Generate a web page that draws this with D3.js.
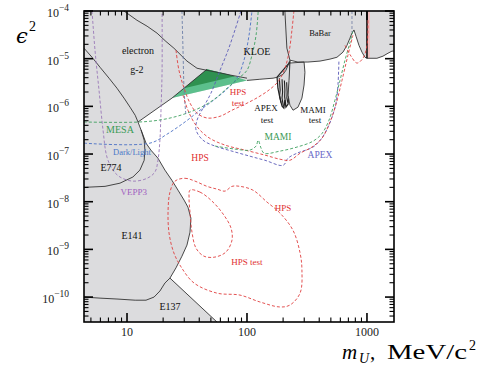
<!DOCTYPE html>
<html><head><meta charset="utf-8">
<script src="https://cdn.jsdelivr.net/npm/d3@7"></script>
<style>body{margin:0;background:#fff}svg{display:block}</style>
</head><body>
<svg id="c" width="483" height="367"></svg>
<script>
// ---------- axes ----------
const xDomain = [4.38, 1680];          // m_U, MeV/c^2
const yDomain = [3.0e-11, 1.0e-4];     // epsilon^2
const xMajor = [10, 100, 1000];
const xMajorLabels = ["10", "100", "1000"];
const yMajorExp = [-10, -9, -8, -7, -6, -5, -4];

// ---------- excluded region boundaries (mass, eps2) ----------
const babarKloeBottom = [[1680,1.44e-5],[1616,1.44e-5],[1496,1.30e-5],[1360,1.13e-5],[1211,1.02e-5],[1059,1.02e-5],[1000,1.02e-5],[962,1.07e-5],[909,1.37e-5],[858,1.9e-5],[810,2.96e-5],[779,4.0e-5],[750,3.43e-5],[722,2.7e-5],[681,1.9e-5],[631,1.37e-5],[562,1.07e-5],[492,9.8e-6],[406,8.9e-6],[322,8.5e-6],[266,8.5e-6],[228,9.3e-6],[220,7.3e-6],[211,5.7e-6],[200,4.7e-6],[181,4.1e-6],[165,3.9e-6],[128,3.7e-6],[100,3.5e-6]];
const greenCorner = [23.7, 1.49e-6];
const diagonalEdge = [[46.4,6.0e-6],[23.7,1.49e-6],[12.35,4.7e-7]];
const beamDumpEdge = [[4.38,1.66e-5],[5.11,1.07e-5],[5.96,6.6e-6],[7.08,3.9e-6],[8.25,2.4e-6],[9.44,1.49e-6],[10.6,9.6e-7],[11.7,6.5e-7],[12.35,4.7e-7],[12.8,3.7e-7],[13.6,2.5e-7],[14.4,1.69e-7],[15.8,1.21e-7],[18.1,8.2e-8],[20.7,4.6e-8],[23.7,2.8e-8],[26.6,1.75e-8],[29.9,1.08e-8],[32.2,7.7e-9],[34.1,4.5e-9],[33.5,2.3e-9],[31.6,1.23e-9],[28.7,7.2e-10],[25.6,4.1e-10],[22.8,2.5e-10]];
const e137Edge = [[22.8,2.5e-10],[56.2,3.0e-11]];
const g2Edge = [[9.44,1.0e-4],[12.1,6.4e-5],[14.7,4.8e-5],[17.8,3.43e-5],[21.1,2.3e-5],[24.6,1.66e-5],[28.2,1.18e-5],[31.6,8.9e-6],[38.3,6.3e-6],[46.4,5.7e-6],[56.2,5.2e-6],[73.6,4.5e-6],[100,3.9e-6]];
const e774Edge = [[13.1,3.2e-7],[13.9,1.95e-7],[14.1,1.21e-7],[13.9,7.4e-8],[12.8,4.6e-8],[11.2,3.3e-8],[8.74,2.45e-8],[6.56,2.1e-8],[4.38,2.0e-8]];
const e141Bottom = [[4.38,1.0e-10],[5.96,9.5e-11],[8.25,9.1e-11],[11.7,8.6e-11],[14.4,8.6e-11],[16.8,1.0e-10],[18.8,1.34e-10],[20.7,1.97e-10],[22.8,2.5e-10]];
const kloeBabarSplit = [[207,1.0e-4],[211,4.0e-5],[215,1.66e-5],[228,9.3e-6]];
const phiLine = [[1000,1.0e-4],[1000,1.02e-5]];
const apexTest = [[178,4.1e-6],[181,2.4e-6],[188,1.49e-6],[196,1.01e-6],[203,9.2e-7],[207,1.35e-6],[211,9.6e-7],[220,1.11e-6],[224,2.0e-6],[228,3.9e-6],[228,8.5e-6]];
const apexTestSpikes = [
  [[186,3.9e-6],[189,2.2e-6],[187,1.7e-6],[192,1.2e-6]],
  [[196,3.7e-6],[198,2.0e-6],[196,1.5e-6],[201,1.0e-6]],
  [[205,3.5e-6],[207,2.2e-6],[206,1.6e-6],[210,1.1e-6]],
  [[214,3.2e-6],[216,2.0e-6],[215,1.5e-6],[219,1.2e-6]]
];
const mamiTest = [[228,8.1e-6],[224,3.5e-6],[220,1.72e-6],[228,1.06e-6],[242,8.3e-7],[266,9.6e-7],[287,1.49e-6],[299,2.8e-6],[304,5.2e-6],[299,8.5e-6]];
const g2Band = [[23.7,1.49e-6],[46.4,6.0e-6],[69.5,4.7e-6],[100,3.5e-6]];
const g2BandCore = [[29.9,2.4e-6],[46.4,6.0e-6],[79.4,4.3e-6]];
const phiBand = [[1000,1.0e-4],[1059,1.0e-4],[1059,1.02e-5],[1000,1.02e-5]];

// ---------- projected reaches (dashed) ----------
const vepp3 = [[5.11,1.0e-4],[5.41,1.5e-5],[5.84,2.2e-6],[6.31,3.2e-7],[6.81,8.6e-8],[7.64,4.6e-8],[8.74,3.3e-8],[11.2,2.7e-8],[14.7,3.1e-8],[17.1,4.2e-8],[18.1,7.4e-8],[18.8,1.95e-7],[19.2,8.3e-7],[19.6,5.7e-6],[19.6,1.0e-4]];
const darkLight = [[4.38,1.69e-7],[15.5,1.69e-7],[21.5,2.6e-7],[30.4,4.7e-7],[40.6,8.3e-7],[54.1,1.42e-6],[68.1,2.3e-6],[82.5,3.9e-6],[94.4,9.3e-6],[104,3.1e-5],[110,1.0e-4]];
const mesa = [[4.38,4.7e-7],[12.8,4.7e-7],[20.7,5.4e-7],[31.6,7.2e-7],[44.7,1.06e-6],[56.2,1.56e-6],[66.8,2.3e-6],[76.4,3.06e-6],[87.4,4.1e-6],[100,5.7e-6],[110,1.18e-5],[119,3.1e-5],[124,1.0e-4]];
const grayReach = [[28.7,1.0e-4],[29.3,1.5e-5],[29.9,2.2e-6],[31.0,6.2e-7]];
const apex = [[89.1,1.0e-4],[79.4,4.0e-5],[69.5,1.5e-5],[59.6,5.7e-6],[50.1,1.9e-6],[43.0,9.2e-7],[38.3,5.1e-7],[37.6,3.2e-7],[43.0,1.95e-7],[54.1,1.47e-7],[75.0,1.15e-7],[106,9.0e-8],[141,7.4e-8],[200,5.8e-8],[220,8.2e-8],[261,1.04e-7],[355,1.40e-7],[414,2.05e-7],[464,3.3e-7],[511,5.9e-7],[552,1.17e-6],[573,2.8e-6],[584,9.3e-6]];
const hps = [[29.3,1.72e-6],[32.2,8.3e-7],[37.6,4.0e-7],[47.3,2.26e-7],[65.6,1.54e-7],[96.2,1.21e-7],[141,9.5e-8],[188,7.8e-8],[228,7.4e-8],[277,1.04e-7],[348,1.40e-7],[422,2.15e-7],[492,4.7e-7],[552,1.11e-6],[619,3.5e-6],[694,1.18e-5],[764,3.1e-5]];
const hpsTest = [[25.6,1.5e-5],[27.1,5.7e-6],[29.9,2.4e-6],[33.5,1.17e-6],[38.3,7.2e-7],[46.4,5.7e-7],[59.6,6.2e-7],[75.0,8.3e-7],[96.2,1.11e-6],[124,1.56e-6],[156,2.3e-6],[185,3.5e-6],[207,6.3e-6],[224,1.37e-5],[237,4.0e-5],[246,1.0e-4]];
const mami = [[54.1,1.47e-7],[79.4,1.27e-7],[106,1.21e-7],[119,1.47e-7],[124,1.95e-7],[131,1.33e-7],[139,1.04e-7],[188,1.15e-7],[261,1.40e-7],[355,1.86e-7],[422,2.7e-7],[482,5.1e-7],[541,1.35e-6],[596,3.5e-6],[656,9.3e-6],[722,2.2e-5],[764,3.8e-5]];
const spikeGray = [[750,1.0e-4],[750,3.6e-5]];
const spikeRed = [[656,1.9e-5],[736,1.13e-5],[825,8.1e-6],[926,1.02e-5],[1000,1.9e-5],[1019,6.4e-5]];
const hpsDisplaced = [[25.1,2.7e-8],[30.4,3.1e-8],[36.9,2.7e-8],[46.4,2.1e-8],[56.2,1.84e-8],[65.6,1.67e-8],[75.0,2.1e-8],[87.4,2.1e-8],[112,1.75e-8],[147,9.8e-9],[188,5.8e-9],[242,2.5e-9],[277,8.4e-10],[287,3.7e-10],[277,1.21e-10],[228,6.8e-11],[188,6.2e-11],[128,7.9e-11],[87.4,1.1e-10],[56.2,1.21e-10],[36.2,1.97e-10],[28.2,4.3e-10],[24.6,8.4e-10],[22.4,2.2e-9],[22.0,6.7e-9],[22.8,1.59e-8]];
const hpsTestDisplaced = [[33.5,1.75e-8],[40.6,1.59e-8],[52.1,9.8e-9],[64.3,5.2e-9],[73.6,2.8e-9],[75.0,1.57e-9],[66.8,8.8e-10],[54.1,6.9e-10],[43.8,7.2e-10],[37.6,1.06e-9],[34.8,2.3e-9],[33.5,6.0e-9],[32.9,1.19e-8]];

// ---------- labels (text, mass, eps2) ----------
const labels = [
  ["electron",12.35,1.5e-5,"#111",10],["g-2",12.1,6.0e-6,"#111",10],
  ["KLOE",121,1.44e-5,"#111",10],["BaBar",406,3.43e-5,"#111",8.5],
  ["APEX",144,9.2e-7,"#111",9],["test",147,5.1e-7,"#111",9],
  ["MAMI",355,8.3e-7,"#111",9],["test",369,5.1e-7,"#111",9],
  ["HPS",84.1,2.0e-6,"#e03030",9],["test",84.1,1.17e-6,"#e03030",9],
  ["MESA",8.74,3.2e-7,"#3a9a55",10],["Dark/Light",11.0,1.10e-7,"#4a78c8",8.5],
  ["E774",7.36,5.1e-8,"#111",10],["VEPP3",11.4,1.59e-8,"#a060c0",9],
  ["HPS",40.6,8.2e-8,"#e03030",9.5],["MAMI",181,2.26e-7,"#3a9a55",9.5],
  ["APEX",406,9.5e-8,"#6a6ac8",9.5],["E141",11.0,2.0e-9,"#111",10],
  ["HPS",200,7.3e-9,"#e03030",9],["HPS test",100,5.4e-10,"#e03030",9],
  ["E137",22.8,6.2e-11,"#111",10]
];

const svg = d3.select("#c");
const x = d3.scaleLog().domain(xDomain).range([84, 394]);
const y = d3.scaleLog().domain(yDomain).range([322, 11]);
svg.append("rect").attr("width",483).attr("height",367).attr("fill","#fff");
svg.append("defs").append("clipPath").attr("id","clip").append("rect")
  .attr("x",84).attr("y",11).attr("width",310).attr("height",311);
const g = svg.append("g").attr("clip-path","url(#clip)");
const line = d3.line().x(d=>x(d[0])).y(d=>y(d[1]));
const smooth = d3.line().x(d=>x(d[0])).y(d=>y(d[1])).curve(d3.curveCatmullRom.alpha(0.5));
const smoothClosed = d3.line().x(d=>x(d[0])).y(d=>y(d[1])).curve(d3.curveCatmullRomClosed.alpha(0.5));

const GRAY = "#dcdcde";
const excluded = [[xDomain[1],yDomain[1]], ...babarKloeBottom, greenCorner, ...beamDumpEdge.slice(8), e137Edge[1], [xDomain[0],yDomain[0]], [xDomain[0],yDomain[1]]];
g.append("path").attr("d", line(excluded)+"Z").attr("fill", GRAY);
g.append("path").attr("d", line(g2Band)+"Z").attr("fill", "#5cbf8c");
g.append("path").attr("d", line(g2BandCore)+"Z").attr("fill", "#2f9150");
g.append("path").attr("d", line(phiBand)+"Z").attr("fill", "#f4b8b8").attr("opacity",0.8);
g.append("path").attr("d", line(apexTest)+"Z").attr("fill", GRAY).attr("stroke","#222").attr("stroke-width",1.2);
apexTestSpikes.forEach(a=>{
  g.append("path").attr("d", line(a)).attr("fill","none").attr("stroke","#222").attr("stroke-width",1.1);
});
g.append("path").attr("d", line(mamiTest)+"Z").attr("fill", GRAY).attr("stroke","#333").attr("stroke-width",0.9);

[babarKloeBottom, diagonalEdge, beamDumpEdge, e137Edge, g2Edge, e774Edge, e141Bottom, kloeBabarSplit].forEach(a=>{
  g.append("path").attr("d", line(a)).attr("fill","none").attr("stroke","#333").attr("stroke-width",0.9);
});
g.append("path").attr("d", line(phiLine)).attr("fill","none").attr("stroke","#111").attr("stroke-width",1.6);

const dashed = [
  [vepp3,"#9a78b8"],[darkLight,"#4a6fc4"],[mesa,"#3fa060"],[grayReach,"#6c7fa8"],
  [apex,"#5a5ab8"],[hps,"#e04040"],[hpsTest,"#e04040"],[mami,"#3fa060"],
  [spikeGray,"#7a86a8"],[spikeRed,"#e04040"]
];
dashed.forEach(([a,c])=>{
  g.append("path").attr("d", smooth(a)).attr("fill","none").attr("stroke",c)
   .attr("stroke-width",0.9).attr("stroke-dasharray","3,2");
});
[hpsDisplaced, hpsTestDisplaced].forEach(a=>{
  g.append("path").attr("d", smoothClosed(a)).attr("fill","none").attr("stroke","#e04040")
   .attr("stroke-width",0.9).attr("stroke-dasharray","3,2");
});

labels.forEach(([t,m,e,c,s])=>{
  g.append("text").attr("x",x(m)).attr("y",y(e)).attr("dy","0.35em")
   .attr("text-anchor","middle").attr("fill",c).attr("font-size",s)
   .attr("font-family","'Liberation Serif', serif").text(t);
});

// ---------- ticks ----------
const ax = svg.append("g").attr("stroke","#000");
const xMinor = [], yMinor = [];
for (let k=0;k<=3;k++) for (let j=2;j<=9;j++){ const v=j*Math.pow(10,k); if(v>xDomain[0]&&v<xDomain[1]) xMinor.push(v); }
for (let k=-11;k<=-5;k++) for (let j=2;j<=9;j++){ const v=j*Math.pow(10,k); if(v>yDomain[0]&&v<yDomain[1]) yMinor.push(v); }
const yMajor = yMajorExp.map(e=>Math.pow(10,e));
xMajor.forEach(v=>{
  ax.append("line").attr("x1",x(v)).attr("x2",x(v)).attr("y1",322).attr("y2",313).attr("stroke-width",1.6);
  ax.append("line").attr("x1",x(v)).attr("x2",x(v)).attr("y1",11).attr("y2",20).attr("stroke-width",1.6);
});
xMinor.forEach(v=>{
  ax.append("line").attr("x1",x(v)).attr("x2",x(v)).attr("y1",322).attr("y2",317.5).attr("stroke-width",1.1);
  ax.append("line").attr("x1",x(v)).attr("x2",x(v)).attr("y1",11).attr("y2",15.5).attr("stroke-width",1.1);
});
yMajor.forEach(v=>{
  ax.append("line").attr("x1",84).attr("x2",93).attr("y1",y(v)).attr("y2",y(v)).attr("stroke-width",1.6);
  ax.append("line").attr("x1",394).attr("x2",385).attr("y1",y(v)).attr("y2",y(v)).attr("stroke-width",1.6);
});
yMinor.forEach(v=>{
  ax.append("line").attr("x1",84).attr("x2",88.5).attr("y1",y(v)).attr("y2",y(v)).attr("stroke-width",1.1);
  ax.append("line").attr("x1",394).attr("x2",389.5).attr("y1",y(v)).attr("y2",y(v)).attr("stroke-width",1.1);
});
svg.append("rect").attr("x",84).attr("y",11).attr("width",310).attr("height",311)
  .attr("fill","none").attr("stroke","#000").attr("stroke-width",1.6);

const serif = "'Liberation Serif', serif";
xMajor.forEach((v,i)=>{
  svg.append("text").attr("x",x(v)).attr("y",336).attr("text-anchor","middle")
   .attr("font-family",serif).attr("font-size",12).attr("fill","#222").text(xMajorLabels[i]);
});
yMajorExp.forEach(e=>{
  const t = svg.append("text").attr("x",69).attr("y",y(Math.pow(10,e))+6).attr("text-anchor","end")
    .attr("font-family",serif).attr("font-size",12).attr("fill","#222");
  t.append("tspan").text("10");
  t.append("tspan").attr("dy",-6).attr("font-size",9.5).text("\u2212"+Math.abs(e));
});
// axis titles
svg.append("text").attr("x",16).attr("y",43).attr("font-family","'DejaVu Serif', serif")
  .attr("font-style","italic").attr("font-size",21).text("\u03f5");
svg.append("text").attr("x",29).attr("y",31).attr("font-family",serif).attr("font-size",14).text("2");
svg.append("text").attr("x",342).attr("y",359).attr("font-family",serif).attr("font-style","italic").attr("font-size",21).text("m");
svg.append("text").attr("x",359).attr("y",363).attr("font-family",serif).attr("font-style","italic").attr("font-size",14).text("U");
svg.append("text").attr("x",370).attr("y",359).attr("font-family",serif).attr("font-size",21).text(",");
svg.append("text").attr("x",387).attr("y",359).attr("font-family",serif).attr("font-size",21)
  .attr("textLength",80).attr("lengthAdjust","spacingAndGlyphs").text("MeV/c");
svg.append("text").attr("x",469).attr("y",350).attr("font-family",serif).attr("font-size",14).text("2");
</script>
</body></html>
